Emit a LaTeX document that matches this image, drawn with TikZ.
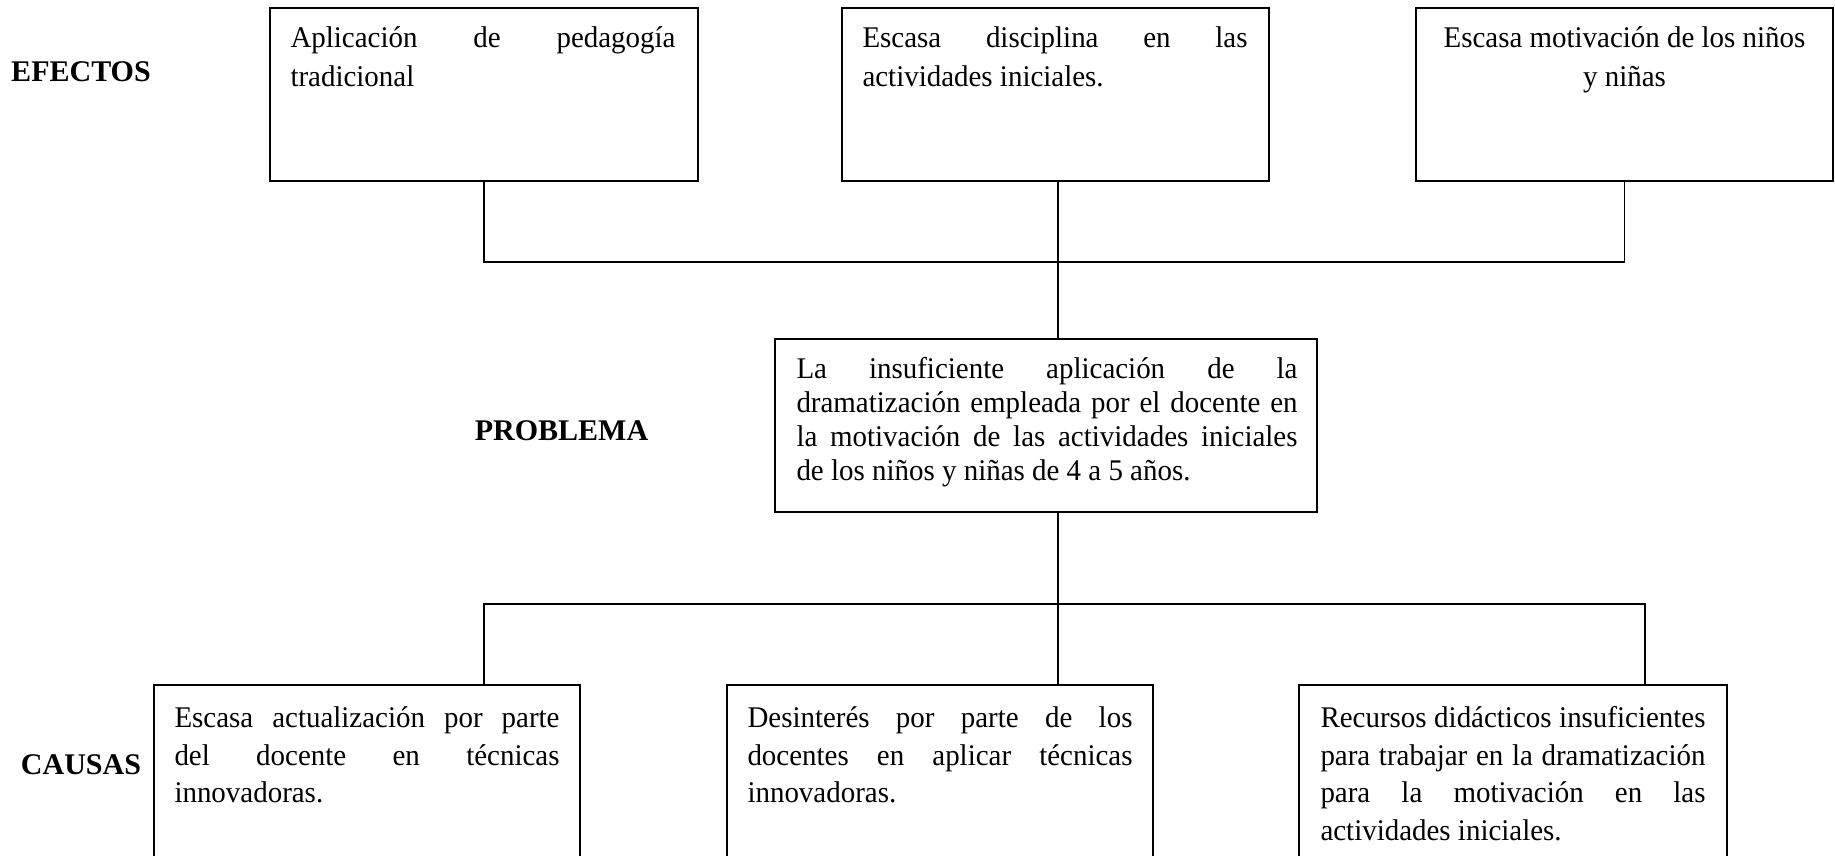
\documentclass[tikz,border=0pt]{standalone}
\usepackage{fontspec}
\setmainfont{Liberation Serif}[FakeStretch=0.965]
\newfontfamily\lblfont{Liberation Serif}
\begin{document}
\begin{tikzpicture}[x=0.4pt,y=-0.4pt,
  box/.style={draw, line width=0.7pt, inner sep=0pt},
  txt/.style={inner sep=0pt, anchor=north west, align=justify, text width=154pt,
    execute at begin node={\hyphenpenalty=10000\exhyphenpenalty=10000}},
  lbl/.style={inner sep=0pt, font=\lblfont\fontsize{12}{14}\selectfont\bfseries},
  conn/.style={line width=0.6pt}]
\useasboundingbox (0,0) rectangle (1835,855);
\clip (0,0) rectangle (1835,855);
% labels
\node[lbl] (lef) at (81,71.5) {EFECTOS};
\node[lbl] (lpr) at (561.5,431) {PROBLEMA};
\node[lbl] (lca) at (81,765) {CAUSAS};
% effect boxes
\node[box, minimum width=171.2pt, minimum height=69.2pt] (e1) at (484,94.5) {};
\node[box, minimum width=170.8pt, minimum height=69.2pt] (e2) at (1055.5,94.5) {};
\node[box, minimum width=166.8pt, minimum height=69.2pt] (e3) at (1624.5,94.5) {};
\node[txt, font=\fontsize{12}{15.4}\selectfont] (t1) at (290,17) {\rule{0pt}{12pt}Aplicación de pedagogía\linebreak tradicional};
\node[txt, font=\fontsize{12}{15.4}\selectfont] (t2) at (862,17) {\rule{0pt}{12pt}Escasa disciplina en las\linebreak actividades iniciales.};
\node[inner sep=0pt, anchor=north, align=center, font=\fontsize{12}{15.4}\selectfont] (t3) at (1624.5,17) {\rule{0pt}{12pt}Escasa motivación de los niños\\ y niñas};
% problem box
\node[box, minimum width=216.8pt, minimum height=69.2pt] (p) at (1046,425.5) {};
\node[txt, text width=200.4pt, font=\fontsize{12}{13.6}\selectfont] (tp) at (796,348) {\rule{0pt}{12pt}La insuficiente aplicación de la\linebreak dramatización empleada por el docente en\linebreak la motivación de las actividades iniciales\linebreak de los niños y niñas de 4 a 5 años.};
% cause boxes
\node[box, minimum width=170.4pt, minimum height=78pt] (c1) at (367,782.5) {};
\node[box, minimum width=170.4pt, minimum height=78pt] (c2) at (940,782.5) {};
\node[box, minimum width=171.2pt, minimum height=78pt] (c3) at (1513,782.5) {};
\node[txt, font=\fontsize{12}{15}\selectfont] (tc1) at (174,697) {\rule{0pt}{12pt}Escasa actualización por parte\linebreak del docente en técnicas\linebreak innovadoras.};
\node[txt, font=\fontsize{12}{15}\selectfont] (tc2) at (747,697) {\rule{0pt}{12pt}Desinterés por parte de los\linebreak docentes en aplicar técnicas\linebreak innovadoras.};
\node[txt, font=\fontsize{12}{15}\selectfont] (tc3) at (1320,697) {\rule{0pt}{12pt}Recursos didácticos insuficientes\linebreak para trabajar en la dramatización\linebreak para la motivación en las\linebreak actividades iniciales.};
% connectors
\coordinate (spine) at (1058,262);
\coordinate (k3) at (1645,604);
\draw[conn] (e1.south) |- (spine) -| (e3.south);
\draw[conn] (e2.south -| spine) -- (p.north -| spine);
\draw[conn] (p.south -| spine) -- (c2.north -| spine);
\draw[conn] (c1.north -| e1.south) |- (k3) -- (k3 |- c3.north);
\end{tikzpicture}
\end{document}
